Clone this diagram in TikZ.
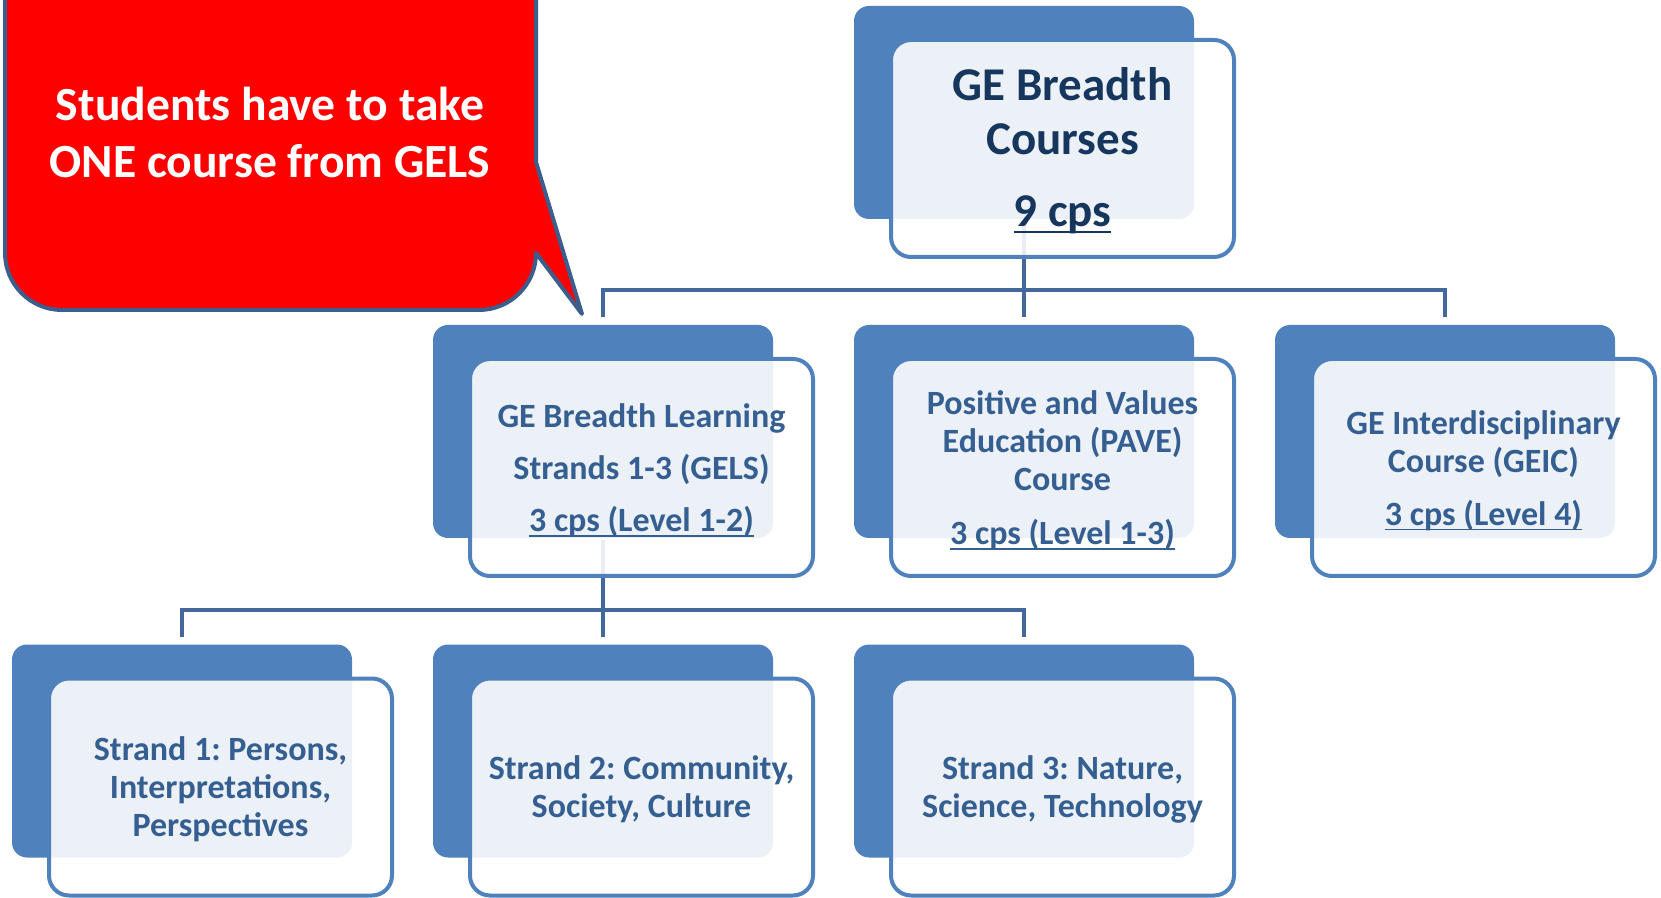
\documentclass[tikz,border=0pt]{standalone}
\usepackage{fontspec}
\setmainfont{Carlito}
\usetikzlibrary{positioning}

\definecolor{boxblue}{RGB}{79,129,189}
\definecolor{linkblue}{RGB}{66,104,156}
\definecolor{textblue}{RGB}{54,95,145}
\definecolor{navy}{RGB}{23,54,93}
\definecolor{calloutline}{RGB}{60,94,140}

% underlined credit points
\newcommand{\cps}[1]{\setbox0\hbox{#1}\rlap{\rule[-0.15em]{\wd0}{0.055em}}\box0}
% invisible strut that pushes a text block down
\newcommand{\lift}[1]{\rule{0pt}{#1}}
\frenchspacing

\begin{document}
\begin{tikzpicture}[x=0.5pt, y=-0.5pt, line width=2pt]
        \tikzstyle{back box}=[rectangle, rounded corners=7.5pt, fill=boxblue, minimum width=170pt, minimum height=106.5pt, inner sep=0pt]
        \tikzstyle{front box}=[rectangle, rounded corners=10pt, draw=boxblue, line width=2pt, fill=white, fill opacity=0.89, text opacity=1, minimum width=171.5pt, minimum height=108.5pt, align=center, text=textblue, font=\bfseries\fontsize{17}{19}\selectfont, xshift=19.25pt, yshift=-18pt]
        \tikzstyle{link}=[draw=linkblue, line width=2pt]
        \tikzstyle{drop}=[link, shorten >=3pt]
        \tikzstyle{callout}=[draw=calloutline, fill=red, line width=2pt, line join=round]

        \useasboundingbox (0,0) rectangle (1661,898);

        % Draw the back boxes of all three layers
        \node[back box] (T) at (1024,112.5) {};
        \foreach \name / \x in {1/603,2/1024,3/1445}
            \node[back box] (M-\name) at (\x,431.5) {};
        \foreach \name / \x in {1/182,2/603,3/1024}
            \node[back box] (S-\name) at (\x,751) {};

        % Connect the top box with the middle layer
        \coordinate (bus-top) at (1024,290);
        \draw[link] (T.south) -- (bus-top);
        \foreach \name in {1,2,3}
            \draw[drop] (bus-top) -| (M-\name.north);

        % Connect GELS with the three strands
        \coordinate (bus-gels) at (603,610);
        \draw[link] (M-1.south) -- (bus-gels);
        \foreach \name in {1,2,3}
            \draw[drop] (bus-gels) -| (S-\name.north);

        % Front boxes carry the text
        \node[front box, text=navy, font=\bfseries\fontsize{23.5}{27}\selectfont] (F-T) at (T) {\lift{18.6pt}GE Breadth\\Courses\\[9pt]\cps{9 cps}};
        \node[front box] (F-1) at (M-1) {\lift{15pt}GE Breadth Learning\\[7pt]Strands 1-3 (GELS)\\[7pt]\cps{3 cps (Level 1-2)}};
        \node[front box] (F-2) at (M-2) {\lift{15pt}Positive and Values\\Education (PAVE)\\Course\\[8pt]\cps{3 cps (Level 1-3)}};
        \node[front box] (F-3) at (M-3) {\lift{15pt}GE Interdisciplinary\\Course (GEIC)\\[7.5pt]\cps{3 cps (Level 4)}};
        \node[front box] (G-1) at (S-1) {\lift{14pt}Strand 1: Persons,\\Interpretations,\\Perspectives};
        \node[front box] (G-2) at (S-2) {\lift{14pt}Strand 2: Community,\\Society, Culture};
        \node[front box] (G-3) at (S-3) {\lift{14pt}Strand 3: Nature,\\Science, Technology};

        % The speech bubble
        \draw[callout] (5,-10) -- (5,253) arc[start angle=180, end angle=270, radius=28.5pt]
            -- (479,310) arc[start angle=270, end angle=360, radius=28.5pt]
            -- (582,314) -- (536,162) -- (536,-10);
        \node[text=white, align=center, font=\bfseries\fontsize{23.8}{28.5}\selectfont] (note) at (270,132) {Students have to take\\ONE course from GELS};
\end{tikzpicture}
\end{document}
